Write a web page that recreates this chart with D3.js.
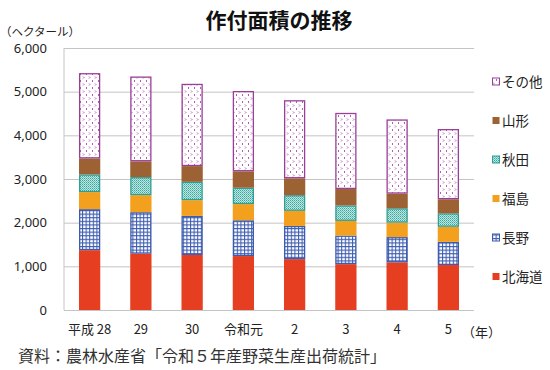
<!DOCTYPE html>
<html lang="ja">
<head>
<meta charset="UTF-8">
<title>作付面積の推移</title>
<script src="https://d3js.org/d3.v7.min.js"></script>
<style>
  body { margin: 0; background: #fff; }
  svg { display: block; font-family: "Noto Sans CJK JP", "Noto Sans", sans-serif; }
</style>
</head>
<body>
<svg id="chart" width="550" height="370"></svg>
<script>
// years (x categories)
const years = ["平成 28", "29", "30", "令和元", "2", "3", "4", "5"];
// series, bottom to top (hectares)
const series = ["北海道", "長野", "福島", "秋田", "山形", "その他"];
const hokkaido = [1370, 1290, 1260, 1235, 1165, 1050, 1090, 1030];
const nagano   = [940, 950, 895, 820, 760, 655, 580, 530];
const fukushima = [390, 390, 360, 370, 345, 335, 330, 345];
const akita    = [405, 414, 420, 375, 360, 355, 330, 310];
const yamagata = [365, 360, 360, 375, 385, 375, 335, 320];
const others   = [1955, 1944, 1885, 1840, 1790, 1745, 1700, 1610];
const yTicks = [0, 1000, 2000, 3000, 4000, 5000, 6000];

const svg = d3.select("#chart");
const margin = { top: 48, left: 64, right: 76, bottom: 60 };
const width = 550 - margin.left - margin.right;
const height = 370 - margin.top - margin.bottom;

// patterns
const defs = svg.append("defs");
const pNagano = defs.append("pattern").attr("id", "p-nagano")
  .attr("patternUnits", "userSpaceOnUse").attr("width", 3.6).attr("height", 3.6);
pNagano.append("rect").attr("width", 3.6).attr("height", 3.6).attr("fill", "#fff");
pNagano.append("path").attr("d", "M0,0.5H3.6M0.5,0V3.6")
  .attr("stroke", "#3d5cb0").attr("stroke-width", 1.1);

const pAkita = defs.append("pattern").attr("id", "p-akita")
  .attr("patternUnits", "userSpaceOnUse").attr("width", 2).attr("height", 2);
pAkita.append("rect").attr("width", 2).attr("height", 2).attr("fill", "#bfe6e1");
pAkita.append("rect").attr("width", 1).attr("height", 1).attr("fill", "#3aa69d");
pAkita.append("rect").attr("x", 1).attr("y", 1).attr("width", 1).attr("height", 1).attr("fill", "#6dc0b8");

const pOthers = defs.append("pattern").attr("id", "p-others")
  .attr("patternUnits", "userSpaceOnUse").attr("width", 6).attr("height", 7);
pOthers.append("rect").attr("width", 6).attr("height", 7).attr("fill", "#fff");
pOthers.append("path").attr("d", "M1,0.5L2,1.5L1,2.5M5,4L4,5L5,6")
  .attr("fill", "none").attr("stroke", "#b060b0").attr("stroke-width", 1);

const colors = {
  "北海道": { fill: "#e63e20", stroke: "none" },
  "長野": { fill: "url(#p-nagano)", stroke: "#3d5cb0" },
  "福島": { fill: "#f4a01f", stroke: "none" },
  "秋田": { fill: "url(#p-akita)", stroke: "#2f9f96" },
  "山形": { fill: "#9c6233", stroke: "none" },
  "その他": { fill: "url(#p-others)", stroke: "#9a3f98" }
};

const values = [hokkaido, nagano, fukushima, akita, yamagata, others];
const rows = years.map((yr, i) => {
  const r = { year: yr };
  series.forEach((s, k) => { r[s] = values[k][i]; });
  return r;
});
const stacked = d3.stack().keys(series)(rows);

const x = d3.scaleBand().domain(years).range([0, width])
  .paddingInner(0.585).paddingOuter(0.2925);
const y = d3.scaleLinear().domain([0, 6000]).range([height, 0]);

const g = svg.append("g").attr("transform", `translate(${margin.left},${margin.top})`);

// grid + y axis
const yAxis = g.append("g")
  .call(d3.axisLeft(y).tickValues(yTicks).tickFormat(d3.format(",")).tickSize(-width).tickPadding(17));
yAxis.select(".domain").remove();
yAxis.selectAll(".tick line").attr("stroke", "#c4c4c4").attr("stroke-width", 1);
yAxis.selectAll(".tick text").attr("font-size", 13).attr("fill", "#222")
  .attr("font-family", "'Noto Sans', sans-serif");

g.append("line").attr("x1", 0).attr("x2", 0).attr("y1", 0).attr("y2", height)
  .attr("stroke", "#c4c4c4");

// bars
g.selectAll(".layer").data(stacked).join("g").attr("class", "layer")
  .each(function (layer) {
    const c = colors[layer.key];
    const sw = c.stroke === "none" ? 0 : 1.3;
    d3.select(this).selectAll("rect").data(layer).join("rect")
      .attr("x", d => x(d.data.year) + sw / 2)
      .attr("y", d => y(d[1]) + sw / 2)
      .attr("width", x.bandwidth() - sw)
      .attr("height", d => y(d[0]) - y(d[1]) - sw)
      .attr("fill", c.fill)
      .attr("stroke", c.stroke)
      .attr("stroke-width", sw);
  });

// x labels
const xAxis = g.append("g").attr("transform", `translate(0,${height})`)
  .call(d3.axisBottom(x).tickSize(0).tickPadding(15));
xAxis.select(".domain").remove();
xAxis.selectAll(".tick text").attr("font-size", 13).attr("fill", "#222")
  .attr("font-family", "'Noto Sans CJK JP', sans-serif");

g.append("text").attr("x", width - 12).attr("y", height + 27)
  .attr("font-size", 13).attr("fill", "#222").text("（年）");

// unit label
svg.append("text").attr("x", 0).attr("y", 36).attr("font-size", 11.5).attr("fill", "#222")
  .text("（ヘクタール）");

// title
svg.append("text").attr("x", 279).attr("y", 28).attr("text-anchor", "middle")
  .attr("font-size", 21).attr("font-weight", "bold").attr("fill", "#111")
  .text("作付面積の推移");

// legend (top to bottom reversed order)
const legendOrder = series.slice().reverse();
const legend = svg.append("g").attr("transform", "translate(492,82)");
const items = legend.selectAll("g").data(legendOrder).join("g")
  .attr("transform", (d, i) => `translate(0,${i * 39})`);
items.append("rect").attr("x", 0.5).attr("y", -4).attr("width", 7).attr("height", 7)
  .attr("fill", d => colors[d].fill)
  .attr("stroke", d => colors[d].stroke)
  .attr("stroke-width", d => colors[d].stroke === "none" ? 0 : 1);
items.append("text").attr("x", 10).attr("y", 5).attr("font-size", 13.5).attr("fill", "#222")
  .text(d => d);

// source
svg.append("text").attr("x", 18).attr("y", 362).attr("font-size", 16).attr("fill", "#333")
  .text("資料：農林水産省「令和５年産野菜生産出荷統計」");
</script>
</body>
</html>
